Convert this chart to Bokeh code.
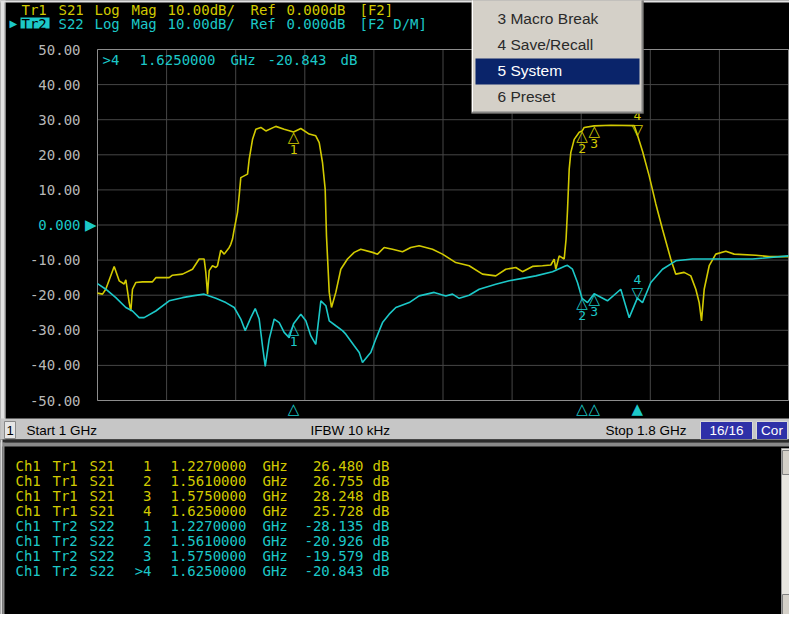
from bokeh.plotting import figure
from bokeh.models import Range1d
from bokeh.core.properties import value
from bokeh.embed import file_html
from bokeh.resources import INLINE

# ---------------- data ----------------
start_ghz, stop_ghz = 1.0, 1.8
x_grid_ghz = [1.00, 1.08, 1.16, 1.24, 1.32, 1.40, 1.48, 1.56, 1.64, 1.72, 1.80]
y_ticks = [50, 40, 30, 20, 10, 0, -10, -20, -30, -40, -50]

s21_freq = [1.0000, 1.0058, 1.0096, 1.0193, 1.0251, 1.0309, 1.0328, 1.0367, 1.0386, 1.0405,
            1.0443, 1.0521, 1.0637, 1.0675, 1.0830, 1.0868, 1.0984, 1.1100, 1.1177, 1.1235,
            1.1254, 1.1274, 1.1293, 1.1331, 1.1370, 1.1389, 1.1427, 1.1467, 1.1525, 1.1543,
            1.1563, 1.1583, 1.1621, 1.1640, 1.1659, 1.1737, 1.1756, 1.1795, 1.1833, 1.1891,
            1.1949, 1.2064, 1.2161, 1.2270, 1.2354, 1.2451, 1.2527, 1.2567, 1.2605, 1.2636,
            1.2651, 1.2683, 1.2709, 1.2759, 1.2817, 1.2894, 1.2972, 1.3048, 1.3184, 1.3242,
            1.3319, 1.3415, 1.3531, 1.3627, 1.3724, 1.3878, 1.3994, 1.4148, 1.4303, 1.4457,
            1.4611, 1.4727, 1.4843, 1.4920, 1.5036, 1.5152, 1.5248, 1.5287, 1.5306, 1.5345,
            1.5403, 1.5425, 1.5441, 1.5461, 1.5480, 1.5519, 1.5577, 1.5610, 1.5635, 1.5750,
            1.5943, 1.6214, 1.6250, 1.6310, 1.6387, 1.6464, 1.6541, 1.6637, 1.6695, 1.6792,
            1.6869, 1.6927, 1.6966, 1.6993, 1.7024, 1.7082, 1.7158, 1.7274, 1.7371, 1.7621,
            1.7777, 1.8000]
s21_db = [-19.4, -19.7, -18.3, -11.8, -15.9, -16.8, -15.6, -22.1, -24.5, -18.3,
          -16.4, -16.2, -16.2, -15.0, -15.0, -14.3, -14.0, -12.6, -9.7, -9.7,
          -13.5, -19.7, -13.0, -11.6, -12.1, -11.6, -7.2, -8.3, -6.4, -5.5,
          -4.0, -1.2, 3.6, 8.3, 13.5, 14.5, 18.7, 24.4, 27.3, 27.8,
          26.8, 28.1, 27.3, 26.48, 27.5, 25.9, 25.4, 23.5, 17.8, 10.2,
          -3.1, -19.2, -23.5, -19.2, -12.6, -9.7, -7.8, -6.9, -7.8, -8.3,
          -6.4, -6.9, -7.6, -6.4, -5.9, -6.9, -8.3, -10.7, -11.6, -14.0,
          -14.5, -12.6, -12.1, -13.3, -11.8, -11.6, -11.4, -9.7, -12.6, -8.8,
          -9.7, -4.0, 4.0, 15.9, 20.7, 24.4, 26.4, 26.755, 27.8, 28.248,
          28.4, 28.3, 25.728, 21.0, 14.0, 6.0, -1.2, -9.7, -14.0, -13.5,
          -14.5, -18.3, -22.1, -27.3, -18.3, -11.6, -8.3, -7.5, -8.3, -8.6,
          -9.0, -9.0]

s22_freq = [1.0000, 1.0096, 1.0212, 1.0328, 1.0405, 1.0482, 1.0540, 1.0675, 1.0830, 1.0984,
            1.1100, 1.1235, 1.1370, 1.1486, 1.1583, 1.1659, 1.1710, 1.1775, 1.1826, 1.1872,
            1.1910, 1.1942, 1.1988, 1.2046, 1.2104, 1.2161, 1.2219, 1.2270, 1.2354, 1.2412,
            1.2470, 1.2527, 1.2586, 1.2644, 1.2683, 1.2759, 1.2836, 1.2875, 1.2972, 1.3030,
            1.3068, 1.3146, 1.3164, 1.3222, 1.3300, 1.3377, 1.3454, 1.3609, 1.3724, 1.3898,
            1.4032, 1.4110, 1.4188, 1.4303, 1.4419, 1.4611, 1.4766, 1.4920, 1.5074, 1.5268,
            1.5422, 1.5441, 1.5499, 1.5557, 1.5610, 1.5673, 1.5750, 1.5904, 1.6058, 1.6156,
            1.6250, 1.6310, 1.6406, 1.6541, 1.6695, 1.6888, 1.7583, 1.8000]
s22_db = [-16.7, -18.3, -20.7, -23.5, -24.5, -26.4, -26.4, -24.5, -21.6, -20.7,
          -20.2, -19.7, -20.9, -22.1, -23.5, -26.8, -30.1, -26.4, -23.8, -26.8,
          -34.4, -40.3, -32.5, -26.8, -27.8, -30.6, -32.1, -28.135, -25.4, -27.3,
          -31.6, -34.0, -21.6, -23.0, -27.3, -28.7, -30.1, -31.1, -34.4, -36.3,
          -39.2, -36.8, -36.3, -32.5, -27.8, -25.4, -23.5, -22.1, -20.2, -19.2,
          -20.2, -19.7, -20.9, -20.0, -18.3, -16.9, -15.9, -15.2, -14.5, -13.3,
          -11.6, -11.5, -12.6, -16.4, -20.926, -22.1, -19.579, -21.6, -18.3, -26.4,
          -20.843, -22.1, -16.4, -12.6, -10.2, -9.7, -9.7, -8.8]

marker_ids = ["1", "2", "3", "4"]
marker_freq = [1.227, 1.561, 1.575, 1.625]
s21_marker_db = [26.480, 26.755, 28.248, 25.728]
s22_marker_db = [-28.135, -20.926, -19.579, -20.843]
active_marker = 3  # marker 4 is the active one

header_words = ["Log", "Mag", "10.00dB/", "Ref", "0.000dB"]
menu_items = ["3 Macro Break", "4 Save/Recall", "5 System", "6 Preset"]
status_texts = ["Start 1 GHz", "IFBW 10 kHz", "Stop 1.8 GHz"]

# ---------------- layout / style ----------------
YELLOW = "#d2ca00"
CYAN = "#1cc8c8"
GRAY_TXT = "#b8b8b8"
MONO = "DejaVu Sans Mono"
SANS = "Liberation Sans"
SYM = "DejaVu Sans"

# page pixels covered by the canvas, and the analyzer grid in page pixels
PX_L, PX_R, PY_T, PY_B = 8, 797, 8, 622
GX0, GX1, GY0, GY1 = 105, 796, 57, 408

kx = (stop_ghz - start_ghz) / (GX1 - GX0)
ky = (max(y_ticks) - min(y_ticks)) / (GY1 - GY0)

p = figure(width=PX_R - PX_L, height=PY_B - PY_T, output_backend="svg", toolbar_location=None,
           x_range=Range1d(PX_L, PX_R), y_range=Range1d(PY_B, PY_T),
           x_axis_type=None, y_axis_type=None, min_border=0,
           background_fill_color="black", border_fill_color="black", outline_line_color=None)
p.title.visible = False
p.extra_x_ranges = {"ghz": Range1d(start_ghz - (GX0 - PX_L) * kx, stop_ghz + (PX_R - GX1) * kx)}
p.extra_y_ranges = {"db": Range1d(min(y_ticks) - (PY_B - GY1) * ky, max(y_ticks) + (GY0 - PY_T) * ky)}
D = dict(x_range_name="ghz", y_range_name="db")


def quad(x0, y0, x1, y1, fill, line=None):
    p.quad(left=[x0], right=[x1], top=[y0], bottom=[y1], fill_color=fill,
           line_color=line, line_width=1)


def seg(x0, y0, x1, y1, color, w=1):
    p.segment(x0=[x0], y0=[y0], x1=[x1], y1=[y1], line_color=color, line_width=w)


def txt(x, y, s, color, size=14, font=MONO, align="left", baseline="middle"):
    p.text(x=[x], y=[y], text=[s], text_color=color, text_font=value(font),
           text_font_size=f"{size}px", text_align=align, text_baseline=baseline)


# ---------------- window chrome (background) ----------------
quad(0, 0, 805, 10, "#e2e2e2")
quad(0, 0, 13, 447, "#e2e2e2")
seg(12.5, 10, 12.5, 426, "#909090")

# ---------------- grid ----------------
ymin, ymax = min(y_ticks), max(y_ticks)
p.segment(x0=x_grid_ghz, y0=[ymin] * len(x_grid_ghz), x1=x_grid_ghz, y1=[ymax] * len(x_grid_ghz),
          line_color="#464646", line_width=1, **D)
p.segment(x0=[start_ghz] * len(y_ticks), y0=y_ticks, x1=[stop_ghz] * len(y_ticks), y1=y_ticks,
          line_color="#464646", line_width=1, **D)
p.quad(left=[start_ghz], right=[stop_ghz], bottom=[ymin], top=[ymax], fill_color=None,
       line_color="#8c8c8c", line_width=1, **D)

# y tick labels (0 reference level in cyan with arrow)
tick_nz = [t for t in y_ticks if t != 0]
p.text(x=[start_ghz] * len(tick_nz), y=tick_nz, text=[f"{t:.2f}" for t in tick_nz], x_offset=-17,
       text_color=GRAY_TXT, text_font=value(MONO), text_font_size="14px",
       text_align="right", text_baseline="middle", **D)
p.text(x=[start_ghz], y=[0], text=["0.000"], x_offset=-17, text_color=CYAN,
       text_font=value(MONO), text_font_size="14px", text_align="right", text_baseline="middle", **D)
p.text(x=[start_ghz], y=[0], text=["\u25b6"], x_offset=-1, text_color=CYAN,
       text_font=value(SYM), text_font_size="15px", text_align="right", text_baseline="middle", **D)

# ---------------- traces ----------------
p.line(s21_freq, s21_db, line_color=YELLOW, line_width=1.6, **D)
p.line(s22_freq, s22_db, line_color=CYAN, line_width=1.6, **D)

# markers on traces
for ydata, col in ((s21_marker_db, YELLOW), (s22_marker_db, CYAN)):
    p.text(x=marker_freq[:3], y=ydata[:3], text=["\u25b3"] * 3, y_offset=-4, text_color=col,
           text_font=value(SYM), text_font_size="15px", text_align="center", text_baseline="top", **D)
    p.text(x=marker_freq[:3], y=ydata[:3], text=marker_ids[:3], y_offset=13, text_color=col,
           text_font=value(MONO), text_font_size="13px", text_align="center", text_baseline="top", **D)
    p.text(x=marker_freq[3:], y=ydata[3:], text=["\u25bd"], y_offset=-5, text_color=col,
           text_font=value(SYM), text_font_size="15px", text_align="center",
           text_baseline="alphabetic", **D)
    p.text(x=marker_freq[3:], y=ydata[3:], text=marker_ids[3:], y_offset=-19, text_color=col,
           text_font=value(MONO), text_font_size="13px", text_align="center",
           text_baseline="alphabetic", **D)

# stimulus markers under the grid
p.text(x=marker_freq, y=[ymin] * len(marker_freq),
       text=["\u25b2" if i == active_marker else "\u25b3" for i in range(len(marker_freq))],
       y_offset=8, text_color=CYAN, text_font=value(SYM), text_font_size="15px",
       text_align="center", text_baseline="middle", **D)

# active marker readout (inside the grid, top-left)
f4 = marker_freq[active_marker]
txt(110, 67, ">" + marker_ids[active_marker], CYAN)
txt(147, 67, f"{f4:.7f}", CYAN)
txt(238, 67, "GHz", CYAN)
txt(275, 67, f"{s22_marker_db[active_marker]:.3f}", CYAN)
txt(348, 67, "dB", CYAN)

# ---------------- header lines ----------------
word_x = [102, 139, 175, 258, 294]
txt(29, 17, "Tr1", YELLOW)
txt(66, 17, "S21", YELLOW)
for w, x in zip(header_words, word_x):
    txt(x, 17, w, YELLOW)
txt(367, 17, "[F2]", YELLOW)
quad(28, 25, 57, 36, CYAN)
txt(17, 31, "\u25b6", CYAN, 10, SYM)
txt(29, 31, "Tr2", "black")
txt(66, 31, "S22", CYAN)
for w, x in zip(header_words, word_x):
    txt(x, 31, w, CYAN)
txt(367, 31, "[F2 D/M]", CYAN)

# ---------------- status bar ----------------
quad(0, 426, 805, 447, "#c6c6c6")
quad(12, 429, 23, 446, "#e6e6e6", "#8a8a8a")
txt(17.5, 437.5, "1", "black", 13, SANS, align="center")
txt(34, 437.5, status_texts[0], "black", 13.5, SANS)
txt(318, 437.5, status_texts[1], "black", 13.5, SANS)
txt(613, 437.5, status_texts[2], "black", 13.5, SANS)
quad(708, 429, 760, 447, "#2e30a8", "#d8d8d8")
txt(734, 438, "16/16", "white", 13.5, SANS, align="center")
quad(764, 429, 795, 447, "#2e30a8", "#d8d8d8")
txt(779.5, 438, "Cor", "white", 13.5, SANS, align="center")

# bottom marker-table panel
quad(0, 447, 805, 450, "#2a2a2a")
quad(0, 450, 805, 454, "#8a8a8a")
quad(0, 447, 10, 630, "#d8d8d8")
quad(10, 450, 12, 630, "#8a8a8a")
quad(789, 456, 805, 630, "#e8e6e0", "#9a9a9a")
quad(790, 458, 805, 482, "#d4d0c8", "#808080")
quad(790, 602, 805, 625, "#d4d0c8", "#808080")

row_y = 473
for tr, sp, vals, col in (("Tr1", "S21", s21_marker_db, YELLOW), ("Tr2", "S22", s22_marker_db, CYAN)):
    for i, mid in enumerate(marker_ids):
        tag = (">" + mid) if (tr == "Tr2" and i == active_marker) else mid
        txt(23, row_y, "Ch1", col)
        txt(60, row_y, tr, col)
        txt(97, row_y, sp, col)
        txt(159, row_y, tag, col, align="right")
        txt(178, row_y, f"{marker_freq[i]:.7f}", col)
        txt(270, row_y, "GHz", col)
        txt(371, row_y, f"{vals[i]:.3f}", col, align="right")
        txt(380, row_y, "dB", col)
        row_y += 15

# ---------------- popup menu (on top) ----------------
quad(479, 0, 651, 121, "#d4d0c8", None)
seg(480, 0, 480, 120, "#ffffff")
seg(479, 120.5, 651, 120.5, "#404040")
seg(650.5, 0, 650.5, 121, "#404040")
seg(480, 119.5, 650, 119.5, "#808080")
seg(649.5, 0, 649.5, 120, "#808080")
quad(483, 66, 647, 92, "#0a246a")
for i, item in enumerate(menu_items):
    txt(505, 26 + 26 * i, item, "white" if item == "5 System" else "#2a2a2a", 15.5, SANS)

open("out.html", "w").write(file_html(p, INLINE))
